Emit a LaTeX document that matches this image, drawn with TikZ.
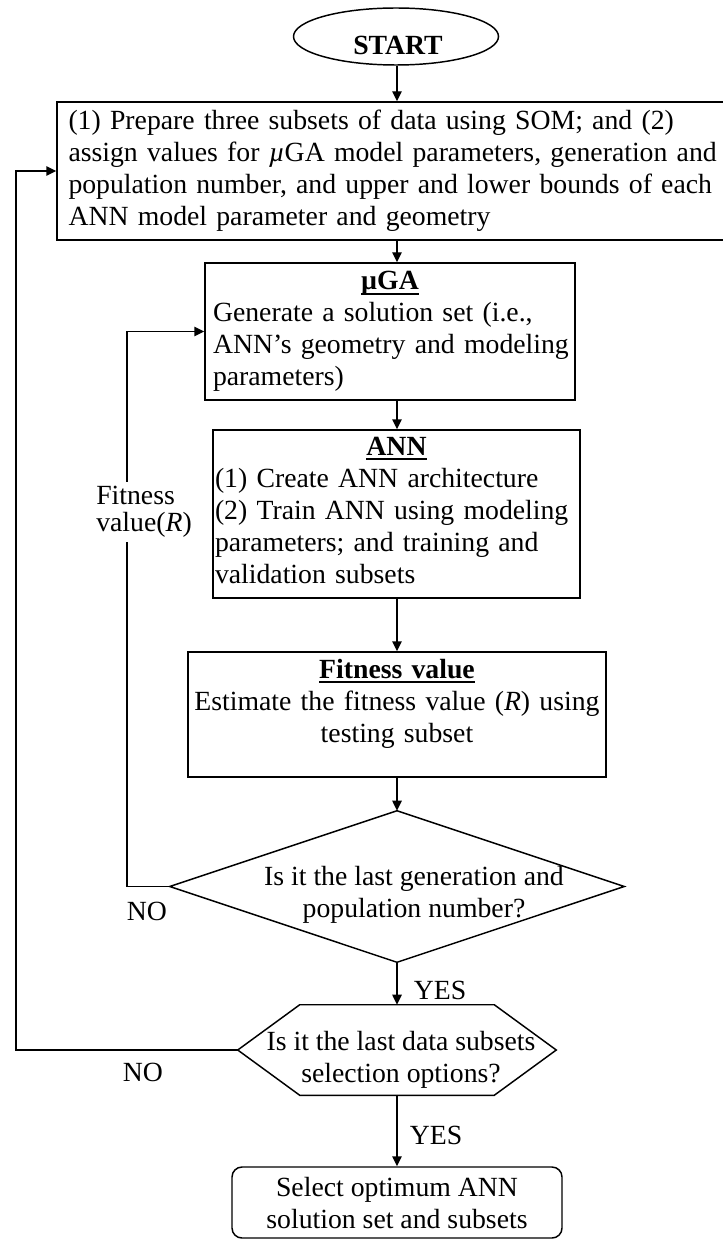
\documentclass[tikz,border=0pt]{standalone}
\usepackage{fontspec}
\setmainfont{Liberation Serif}
\usetikzlibrary{arrows.meta,shapes.geometric,calc}

% bold title with a heavy underline
\newcommand{\boxtitle}[1]{\setbox0\hbox{\textbf{#1}}\rlap{\rule[-3.6pt]{\wd0}{1.5pt}}\box0}

\begin{document}
\begin{tikzpicture}[x=0.75pt,y=-0.75pt,
  every node/.style={font=\fontsize{20.8}{24}\selectfont, inner sep=0pt},
  box/.style={draw, line width=1.1pt, rectangle},
  txt/.style={align=center},
  flow/.style={line width=1.1pt, -{Triangle[length=7.5pt,width=7pt]}},
  shapeline/.style={line width=1.1pt, line join=miter},
]
\useasboundingbox (0,0) rectangle (722,1241);

% guide coordinates for the main spine and the two feedback loops
\coordinate (spine) at (397,0);
\coordinate (innerx) at (127,0);
\coordinate (outerx) at (16,0);

% start terminal
\node[draw, ellipse, line width=1.1pt, minimum width=153.75pt, minimum height=42.75pt] (start) at (396,36.5) {};
\node (starttext) at (398,45) {\textbf{START}};

% data preparation
\node[box, minimum width=504.75pt, minimum height=103.5pt, text width=487.5pt, align=left] (prep) at (393.5,171)
  {\mbox{(1) Prepare three subsets of data using SOM; and (2)}\\
   \mbox{assign values for \textit{µ}GA model parameters, generation and}\\
   \mbox{population number, and upper and lower bounds of each}\\
   \mbox{ANN model parameter and geometry}};

% micro genetic algorithm
\node[box, minimum width=277.5pt, minimum height=102.75pt, text width=265.5pt, align=left] (mga) at (390,331.5)
  {\makebox[\linewidth]{\boxtitle{µGA}}\\
   \mbox{Generate a solution set (i.e.,}\\
   \mbox{ANN’s geometry and modeling}\\
   \mbox{parameters)}};

% neural network training
\node[box, minimum width=275.25pt, minimum height=126pt, text width=272.25pt, align=left] (ann) at (396.5,514)
  {\makebox[\linewidth]{\boxtitle{ANN}}\\
   \mbox{(1) Create ANN architecture}\\
   \mbox{(2) Train ANN using modeling}\\
   \mbox{parameters; and training and}\\
   \mbox{validation subsets}\\[-18pt]\mbox{}};

% fitness evaluation
\node[box, minimum width=313.5pt, minimum height=93.75pt, text width=312pt, align=center] (fit) at (397,714.5)
  {\boxtitle{Fitness value}\\
   \makebox[\linewidth]{Estimate the fitness value (\textit{R}) using}\\
   testing subset\\[-3pt]\mbox{}};

% generation / population decision
\node[minimum width=340.5pt, minimum height=113.25pt] (q1) at (397,886.5) {};
\draw[shapeline] (q1.north) -- (q1.east) -- (q1.south) -- (q1.west) -- cycle;
\node[txt] (q1text) at (414,895) {Is it the last generation and\\population number?};

% data subset decision
\node[minimum width=238.5pt, minimum height=67.5pt] (q2) at (397,1050) {};
\draw[shapeline] (q2.west) -- ($(q2.north west)+(62,0)$) -- ($(q2.north east)+(-62,0)$)
  -- (q2.east) -- ($(q2.south east)+(-62,0)$) -- ($(q2.south west)+(62,0)$) -- cycle;
\node[txt] (q2text) at (401,1060) {Is it the last data subsets\\selection options?};

% final selection
\node[box, rounded corners=7.5pt, minimum width=247.5pt, minimum height=53.25pt, align=center] (final) at (397,1202.5)
  {Select optimum ANN\\solution set and subsets};

% main flow
\draw[flow] (start.south -| spine) -- (prep.north -| spine);
\draw[flow] (prep.south -| spine) -- (mga.north -| spine);
\draw[flow] (mga.south -| spine) -- (ann.north -| spine);
\draw[flow] (ann.south -| spine) -- (fit.north -| spine);
\draw[flow] (fit.south -| spine) -- (q1.north);
\draw[flow] (q1.south) -- (q2.north);
\draw[flow] (q2.south) -- (final.north);

% feedback loops
\draw[flow] (q1.west) -- (q1.west -| innerx) -- (mga.west -| innerx) -- (mga.west);
\draw[flow] (q2.west) -- (q2.west -| outerx) -- (prep.west -| outerx) -- (prep.west);

% loop and branch labels
\node[fill=white, inner sep=3pt, align=left, anchor=west, font=\fontsize{20.8}{20.3}\selectfont] (fitlabel) at (92,512) {Fitness\\value(\textit{R})};
\node (no1) at (147,911) {NO};
\node (yes1) at (440,990) {YES};
\node (no2) at (143,1072) {NO};
\node (yes2) at (436,1135) {YES};
\end{tikzpicture}
\end{document}
